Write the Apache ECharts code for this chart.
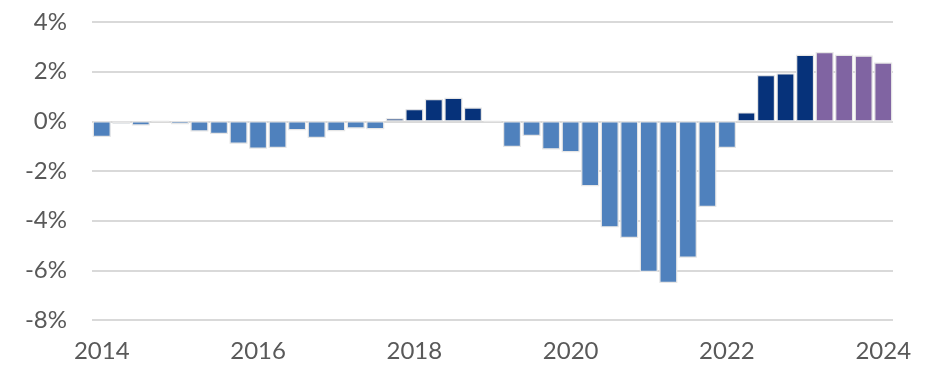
<!DOCTYPE html>
<html>
<head>
<meta charset="utf-8">
<script src="https://cdn.jsdelivr.net/npm/echarts@6/dist/echarts.min.js"></script>
<style>
  html, body { margin: 0; padding: 0; background: #fff; }
  #chart { width: 938px; height: 368px; }
</style>
</head>
<body>
<div id="chart"></div>
<script>
// Quarterly change, 2014 Q1 – 2024 Q1 (percent)
const quarters = [];
for (let y = 2014; y <= 2024; y++) {
  for (let q = 1; q <= 4; q++) {
    if (y === 2024 && q > 1) break;
    quarters.push(y + ' Q' + q);
  }
}

const values = [
  -0.63, -0.10, -0.17, 0.00,      // 2014
  -0.12, -0.41, -0.51, -0.90,     // 2015
  -1.10, -1.07, -0.36, -0.67,     // 2016
  -0.40, -0.29, -0.32, 0.12,      // 2017
  0.49, 0.90, 0.95, 0.56,         // 2018
  0.00, -1.03, -0.59, -1.13,      // 2019
  -1.24, -2.61, -4.27, -4.70,     // 2020
  -6.07, -6.51, -5.49, -3.45,     // 2021
  -1.07, 0.36, 1.86, 1.93,        // 2022
  2.68, 2.79, 2.68, 2.65,         // 2023
  2.37                            // 2024
];

// First quarter shown as a projection
const forecastStart = '2023 Q2';

const yearTicks = ['2014', '2016', '2018', '2020', '2022', '2024'];
const yTicks = [-8, -6, -4, -2, 0, 2, 4];

const COLOR_NEG = '#4F81BD';
const COLOR_POS = '#06327A';
const COLOR_FCST = '#8064A2';
const forecastIdx = quarters.indexOf(forecastStart);

const chart = echarts.init(document.getElementById('chart'));
chart.setOption({
  animation: false,
  backgroundColor: '#ffffff',
  grid: { left: 92, right: 45, top: 22, bottom: 48 },
  xAxis: {
    type: 'category',
    data: quarters,
    axisLine: { show: false },
    axisTick: { show: false },
    axisLabel: {
      interval: (i, v) => v.endsWith('Q1') && yearTicks.includes(v.slice(0, 4)),
      formatter: v => v.slice(0, 4),
      color: '#595959',
      fontFamily: 'Lato',
      fontSize: 24,
      margin: 19
    }
  },
  yAxis: {
    type: 'value',
    min: yTicks[0],
    max: yTicks[yTicks.length - 1],
    interval: 2,
    axisLine: { show: false },
    axisTick: { show: false },
    splitLine: { lineStyle: { color: '#d9d9d9', width: 2 } },
    axisLabel: {
      formatter: '{value}%',
      color: '#595959',
      fontFamily: 'Lato',
      fontSize: 24,
      margin: 25
    }
  },
  series: [{
    type: 'bar',
    data: values,
    barWidth: 18,
    itemStyle: {
      borderColor: '#e6e6e6',
      borderWidth: 1.2,
      color: p => p.dataIndex >= forecastIdx ? COLOR_FCST : (p.value < 0 ? COLOR_NEG : COLOR_POS)
    }
  }]
});
</script>
</body>
</html>
